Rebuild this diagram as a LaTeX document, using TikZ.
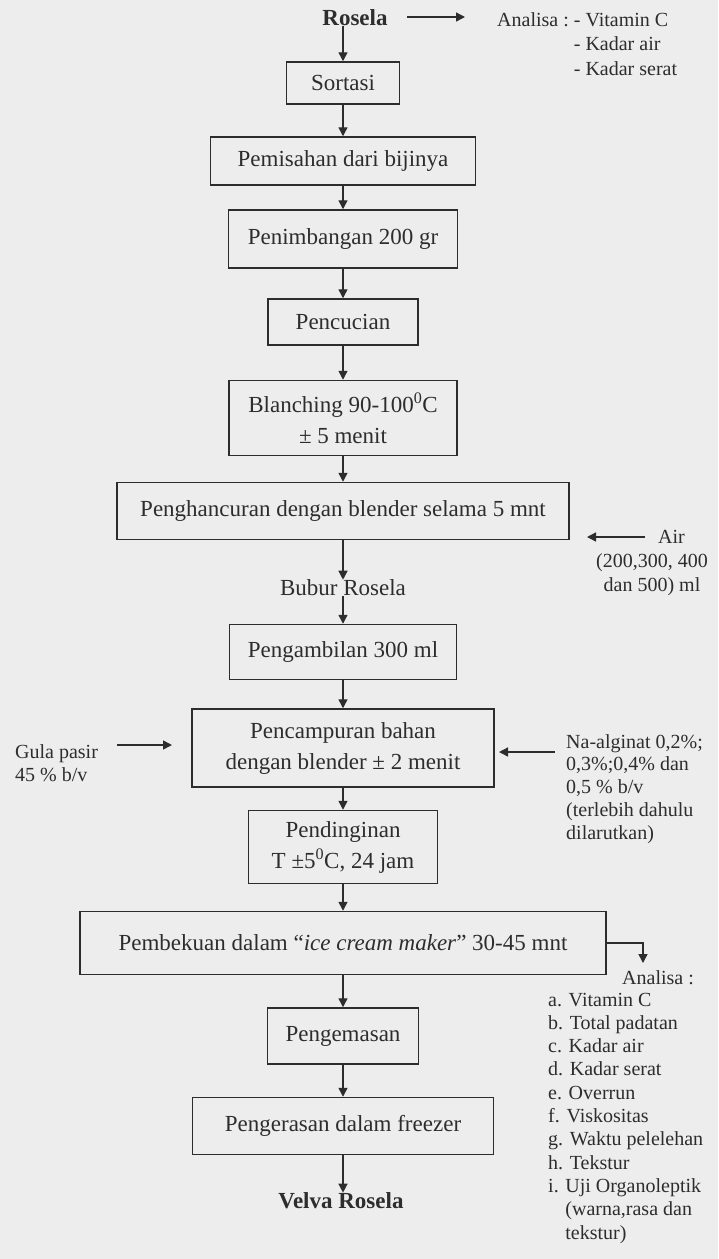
\documentclass[tikz,border=0pt]{standalone}
\usepackage{fontspec}
\setmainfont{Liberation Serif}
\usetikzlibrary{arrows.meta}
\definecolor{bg}{RGB}{237,237,237}
\definecolor{ink}{RGB}{45,45,45}
\tikzset{
  box/.style={draw=ink, line width=1.5pt, text=ink, inner sep=0pt, align=center,
    font=\fontsize{23}{31}\selectfont},
  arr/.style={draw=ink, line width=1.4pt, -{Triangle[length=9pt,width=9pt]}},
  link/.style={draw=ink, line width=1.4pt},
  note/.style={text=ink, inner sep=0pt, font=\fontsize{20}{23}\selectfont},
  flowtext/.style={text=ink, inner sep=0pt, font=\fontsize{23}{28}\selectfont},
  titletext/.style={text=ink, inner sep=0pt, font=\fontsize{23}{28}\selectfont\bfseries},
}
\begin{document}
\begin{tikzpicture}[x=1pt,y=-1pt]
\fill[bg] (0,0) rectangle (718,1259);
\useasboundingbox (0,0) rectangle (718,1259);

% main column
\node[titletext] (rosela) at (355,18) {Rosela};
\node[box, minimum width=113pt, minimum height=42pt] (sortasi) at (343,83) {Sortasi};
\node[box, minimum width=265pt, minimum height=48pt] (pemisahan) at (343,161) {Pemisahan dari bijinya};
\node[box, minimum width=229pt, minimum height=58pt] (penimbangan) at (343,239) {Penimbangan 200 gr};
\node[box, minimum width=150pt, minimum height=46pt] (pencucian) at (343,322) {Pencucian};
\node[box, minimum width=228pt, minimum height=75pt] (blanching) at (343,418) {Blanching 90-100\textsuperscript{0}C\\± 5 menit};
\node[box, minimum width=452pt, minimum height=57pt] (penghancuran) at (343,511) {Penghancuran dengan blender selama 5 mnt};
\node[flowtext] (bubur) at (343,588) {Bubur Rosela};
\node[box, minimum width=227pt, minimum height=55pt] (pengambilan) at (343,652) {Pengambilan 300 ml};
\node[box, minimum width=302pt, minimum height=78pt] (pencampuran) at (343,748) {Pencampuran bahan\\dengan blender ± 2 menit};
\node[box, minimum width=189pt, minimum height=73pt] (pendinginan) at (343,847) {Pendinginan\\T ±5\textsuperscript{0}C, 24 jam};
\node[box, minimum width=526pt, minimum height=63pt] (pembekuan) at (343,943) {Pembekuan dalam “\textit{ice cream maker}” 30-45 mnt};
\node[box, minimum width=151pt, minimum height=56pt] (pengemasan) at (343,1036) {Pengemasan};
\node[box, minimum width=301pt, minimum height=57pt] (pengerasan) at (343,1126) {Pengerasan dalam freezer};
\node[titletext] (velva) at (341,1201) {Velva Rosela};

% side notes
\node[note, anchor=base west, font=\fontsize{20}{24.5}\selectfont] (analisa1) at (497,26)
  {\begin{tabular}[t]{@{}l@{\ }l@{}}Analisa : & - Vitamin C\\ & - Kadar air\\ & - Kadar serat\end{tabular}};
\node[note, anchor=base west] (air) at (658,543) {Air};
\node[note, anchor=base, font=\fontsize{20}{24.5}\selectfont] (airval) at (652,567)
  {\begin{tabular}[t]{@{}c@{}}(200,300, 400\\dan 500) ml\end{tabular}};
\node[note, anchor=base west] (gula) at (15,758)
  {\begin{tabular}[t]{@{}l@{}}Gula pasir\\45 \% b/v\end{tabular}};
\node[note, anchor=base west, font=\fontsize{20}{22.8}\selectfont] (na) at (566,748)
  {\begin{tabular}[t]{@{}l@{}}Na-alginat 0,2\%;\\0,3\%;0,4\% dan\\0,5 \% b/v\\(terlebih dahulu\\dilarutkan)\end{tabular}};
\node[note, anchor=base west] (analisa2) at (622,984) {Analisa :};
\node[note, anchor=base west, font=\fontsize{20}{23.3}\selectfont] (analisalist) at (548,1006)
  {\begin{tabular}[t]{@{}l@{}}a. Vitamin C\\b. Total padatan\\c. Kadar air\\d. Kadar serat\\e. Overrun\\f. Viskositas\\g. Waktu pelelehan\\h. Tekstur\\i. Uji Organoleptik\\\hphantom{i. }(warna,rasa dan\\\hphantom{i. }tekstur)\end{tabular}};

% free ends of side arrows
\coordinate (ra1) at (407,17);
\coordinate (ra2) at (465,17);
\coordinate (air1) at (645,537);
\coordinate (air2) at (587,537);
\coordinate (g1) at (117,745);
\coordinate (g2) at (172,745);
\coordinate (n1) at (555,752);
\coordinate (n2) at (499,752);
\coordinate (hook) at (643,963);

% main connectors
\draw[arr] (rosela.south -| sortasi.north) -- (sortasi.north);
\draw[arr] (sortasi.south) -- (pemisahan.north);
\draw[arr] (pemisahan.south) -- (penimbangan.north);
\draw[arr] (penimbangan.south) -- (pencucian.north);
\draw[arr] (pencucian.south) -- (blanching.north);
\draw[arr] (blanching.south) -- (penghancuran.north);
\draw[arr] (penghancuran.south) -- (bubur.north);
\draw[arr] (bubur.south) -- (pengambilan.north);
\draw[arr] (pengambilan.south) -- (pencampuran.north);
\draw[arr] (pencampuran.south) -- (pendinginan.north);
\draw[arr] (pendinginan.south) -- (pembekuan.north);
\draw[arr] (pembekuan.south) -- (pengemasan.north);
\draw[arr] (pengemasan.south) -- (pengerasan.north);
\draw[arr] (pengerasan.south) -- (velva.north -| pengerasan.south);

% side connectors
\draw[arr] (ra1) -- (ra2);
\draw[arr] (air1) -- (air2);
\draw[arr] (g1) -- (g2);
\draw[arr] (n1) -- (n2);
\draw[arr] (pembekuan.east) -| (hook);
\end{tikzpicture}
\end{document}
